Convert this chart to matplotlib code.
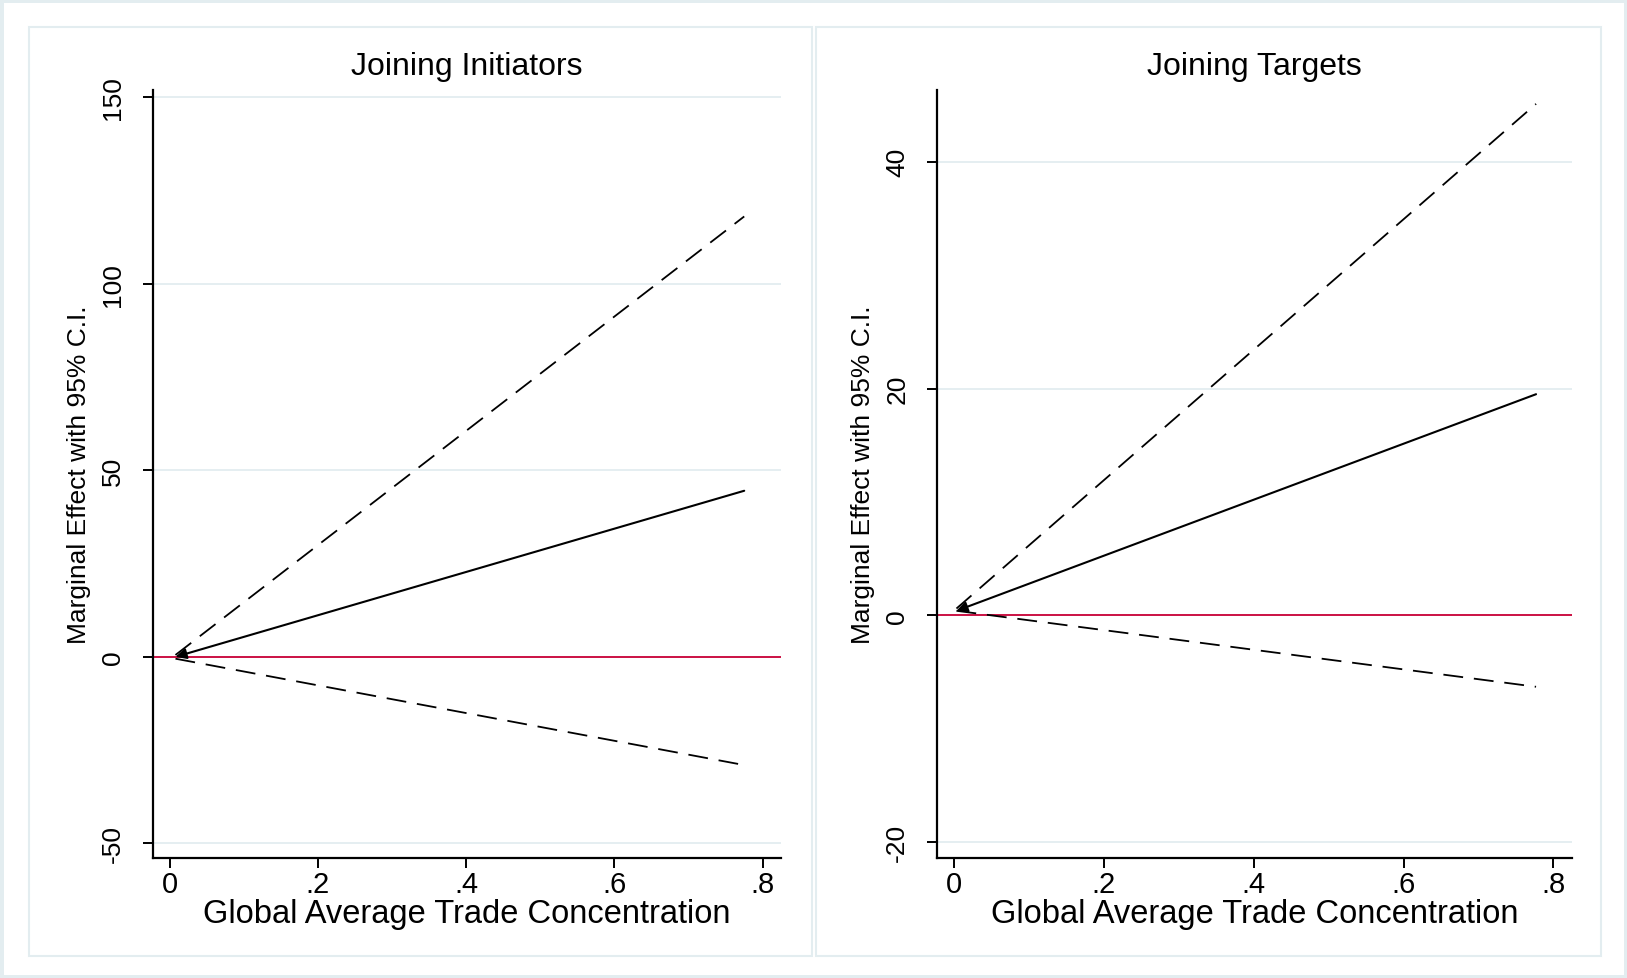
import matplotlib.pyplot as plt
from matplotlib.patches import Rectangle

# values (line start / end points)
titles = ['Joining Initiators', 'Joining Targets']
xlabel = 'Global Average Trade Concentration'
ylabel = 'Marginal Effect with 95% C.I.'

x_init = [0.008, 0.775]
me_init = [0.0, 44.5]
hi_init = [0.5, 118.0]
lo_init = [-0.5, -29.0]

x_targ = [0.003, 0.777]
me_targ = [0.4, 19.5]
hi_targ = [0.6, 45.1]
lo_targ = [0.4, -6.3]

xticks = [0, 0.2, 0.4, 0.6, 0.8]
xtick_labels = ['0', '.2', '.4', '.6', '.8']
yticks_init = [-50, 0, 50, 100, 150]
yticks_targ = [-20, 0, 20, 40]
ylim_init = (-53.9, 151.8)
ylim_targ = (-21.4, 46.3)

plt.rcParams['font.family'] = ['Liberation Sans', 'DejaVu Sans']
plt.rcParams['axes.unicode_minus'] = False

W, H = 1627, 979
fig = plt.figure(figsize=(W / 100, H / 100), dpi=100)
fig.patch.set_facecolor('white')

frame_col = '#e3edf0'
grid_col = '#e3edf0'
red = '#cc1144'

# outer frame and panel boxes (pixel coords -> figure fraction)
fig.patches.append(Rectangle((0, 0), 1, 1, transform=fig.transFigure,
                             fill=False, ec=frame_col, lw=5))
for x0, x1 in [(29, 812), (816, 1601)]:
    fig.patches.append(Rectangle((x0 / W, 1 - 957 / H), (x1 - x0) / W, (957 - 28) / H,
                                 transform=fig.transFigure, fill=False,
                                 ec=frame_col, lw=1.5))

ax1 = fig.add_axes([152.5 / W, 1 - 859 / H, 628.8 / W, 767.7 / H])
ax2 = fig.add_axes([937 / W, 1 - 859 / H, 635 / W, 767.7 / H])

panels = [
    (ax1, titles[0], x_init, me_init, hi_init, lo_init, yticks_init, ylim_init),
    (ax2, titles[1], x_targ, me_targ, hi_targ, lo_targ, yticks_targ, ylim_targ),
]

for ax, title, xs, me, hi, lo, yt, yl in panels:
    ax.set_facecolor('white')
    for s in ['top', 'right']:
        ax.spines[s].set_visible(False)
    for s in ['left', 'bottom']:
        ax.spines[s].set_linewidth(1.6)
        ax.spines[s].set_color('black')

    ax.set_xlim(-0.023, 0.825)
    ax.set_ylim(*yl)
    ax.set_yticks(yt)
    ax.set_xticks(xticks)
    ax.set_xticklabels(xtick_labels)
    ax.grid(axis='y', color=grid_col, lw=1.3)
    ax.set_axisbelow(True)

    ax.axhline(0, color=red, lw=1.4, zorder=2)
    ax.plot(xs, hi, color='black', lw=1.3, ls=(0, (11, 6)), zorder=3)
    ax.plot(xs, lo, color='black', lw=1.3, ls=(0, (11, 6)), zorder=3)
    # solid marginal effect line with the arrow head at its start
    ax.annotate('', xy=(xs[0], me[0]), xytext=(xs[1], me[1]),
                xycoords='data', textcoords='data',
                arrowprops=dict(arrowstyle='-|>', color='black', lw=1.5,
                                mutation_scale=16, shrinkA=0, shrinkB=0),
                zorder=4)

    ax.tick_params(axis='both', direction='out', length=7, width=1.4, color='black')
    ax.tick_params(axis='x', labelsize=21, pad=2)
    ax.tick_params(axis='y', labelsize=19, pad=13, labelrotation=90)
    for lab in ax.get_yticklabels():
        lab.set_va('center')

    ax.set_title(title, fontsize=23, pad=12)
    ax.set_xlabel(xlabel, fontsize=23.5)
    ax.xaxis.set_label_coords(0.5, -0.072)
    ax.xaxis.label.set_va('center')
    ax.set_ylabel(ylabel, fontsize=19)
    ax.yaxis.set_label_coords(-0.117, 0.5)
    ax.yaxis.label.set_va('center')

fig.savefig('out.png', dpi=100, facecolor='white')
